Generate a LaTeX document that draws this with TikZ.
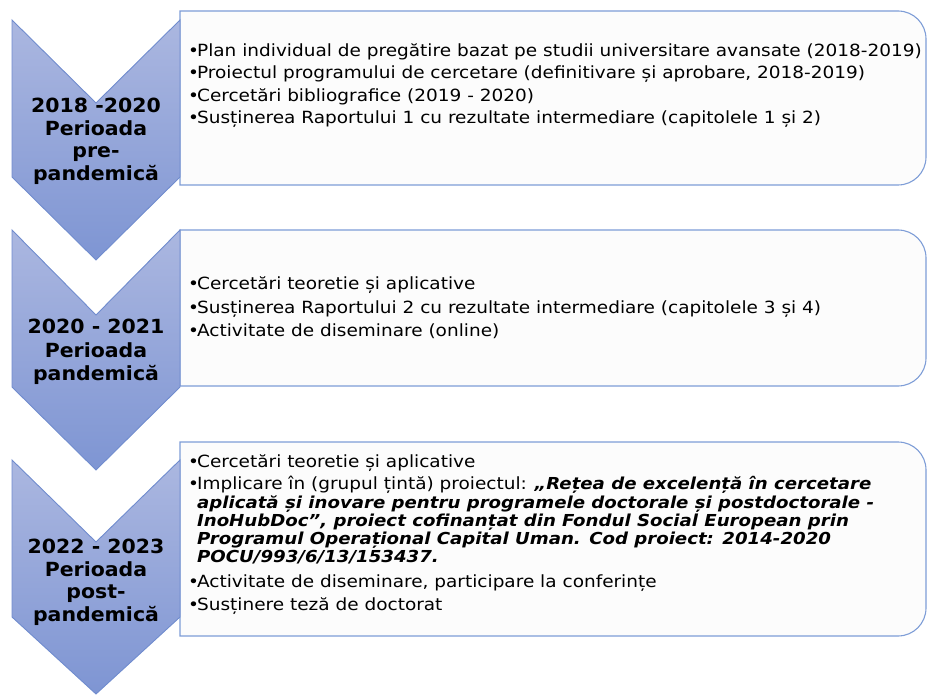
\documentclass[tikz,border=0pt]{standalone}
\usepackage{fontspec}
\setmainfont{DejaVu Sans}
\newfontfamily\bodyfont{DejaVu Sans}[FakeStretch=1.1]
\newfontfamily\labelfont{DejaVu Sans}[FakeStretch=1.05]
\definecolor{chevtop}{RGB}{171,183,224}
\definecolor{chevbot}{RGB}{126,149,211}
\definecolor{chevline}{RGB}{112,140,206}
\definecolor{boxline}{RGB}{126,157,215}
\definecolor{boxfill}{RGB}{252,252,252}
\newcommand\rbox[2]{(180,#1) -- (898,#1) .. controls (913.5,#1) and (926,{#1+12.5}) .. (926,{#1+28}) -- (926,{#2-28}) .. controls (926,{#2-12.5}) and (913.5,#2) .. (898,#2) -- (180,#2) -- cycle}
\newcommand\chevpath[4]{(12,#1) -- (96,#4) -- (180,#1) -- (180,#2) -- (96,#3) -- (12,#2) -- cycle}
\newcommand\bul{•\kern-2pt}
\newcommand\hang{\phantom{•}\kern-2pt}
\tikzset{
  boxshape/.style={draw=boxline, fill=boxfill, line width=1.1pt},
  chevshade/.style={top color=chevtop, bottom color=chevbot},
  chevborder/.style={draw=chevline, line width=0.9pt, line join=miter},
  lbl/.style={font=\labelfont\bfseries\fontsize{19.5}{22}\selectfont, anchor=base, inner sep=0pt},
  txt/.style={font=\bodyfont\fontsize{16.8}{20}\selectfont, anchor=base west, inner sep=0pt},
}
\newcommand\bi[1]{{\fontsize{16.5}{20}\selectfont\bfseries\itshape #1}}
\begin{document}
\begin{tikzpicture}[x=1pt,y=-1pt]
\useasboundingbox (0,0) rectangle (927,695);
% boxes
\path[boxshape] \rbox{11}{185};
\path[boxshape] \rbox{230}{386};
\path[boxshape] \rbox{442}{636};
% chevrons
\shade[chevshade] \chevpath{20}{177}{260}{103};
\draw[chevborder] \chevpath{20}{177}{260}{103};
\shade[chevshade] \chevpath{230}{387}{470}{315};
\draw[chevborder] \chevpath{230}{387}{470}{315};
\shade[chevshade] \chevpath{460}{617}{694}{542};
\draw[chevborder] \chevpath{460}{617}{694}{542};
% chevron labels
\node[lbl] (c1a) at (96,113) {2018 -2020};
\node[lbl] (c1b) at (96,136) {Perioada};
\node[lbl] (c1c) at (96,158) {pre-};
\node[lbl] (c1d) at (96,181) {pandemică};
\node[lbl] (c2a) at (96,334) {2020 - 2021};
\node[lbl] (c2b) at (96,357) {Perioada};
\node[lbl] (c2c) at (96,380) {pandemică};
\node[lbl] (c3a) at (96,553) {2022 - 2023};
\node[lbl] (c3b) at (96,576) {Perioada};
\node[lbl] (c3c) at (96,598) {post-};
\node[lbl] (c3d) at (96,621) {pandemică};
% box 1 text
\node[txt] (t1a) at (188,57) {\bul Plan individual de pregătire bazat pe studii universitare avansate (2018-2019)};
\node[txt] (t1b) at (188,79) {\bul Proiectul programului de cercetare (definitivare și aprobare, 2018-2019)};
\node[txt] (t1c) at (188,102) {\bul Cercetări bibliografice (2019 - 2020)};
\node[txt] (t1d) at (188,124) {\bul Susținerea Raportului 1 cu rezultate intermediare (capitolele 1 și 2)};
% box 2 text
\node[txt] (t2a) at (188,290) {\bul Cercetări teoretie și aplicative};
\node[txt] (t2b) at (188,313) {\bul Susținerea Raportului 2 cu rezultate intermediare (capitolele 3 și 4)};
\node[txt] (t2c) at (188,336) {\bul Activitate de diseminare (online)};
% box 3 text
\node[txt] (t3a) at (188,467) {\bul Cercetări teoretie și aplicative};
\node[txt] (t3b) at (188,489) {\bul Implicare în (grupul țintă) proiectul: \bi{„Rețea de excelență în cercetare}};
\node[txt] (t3c) at (188,508) {\hang\bi{aplicată și inovare pentru programele doctorale și postdoctorale -}};
\node[txt] (t3d) at (188,526) {\hang\bi{InoHubDoc”, proiect cofinanțat din Fondul Social European prin}};
\node[txt] (t3e) at (188,544) {\hang\bi{Programul Operațional Capital Uman. Cod proiect: 2014-2020}};
\node[txt] (t3f) at (188,562) {\hang\bi{POCU/993/6/13/153437.}};
\node[txt] (t3g) at (188,587) {\bul Activitate de diseminare, participare la conferințe};
\node[txt] (t3h) at (188,610) {\bul Susținere teză de doctorat};
\end{tikzpicture}
\end{document}
